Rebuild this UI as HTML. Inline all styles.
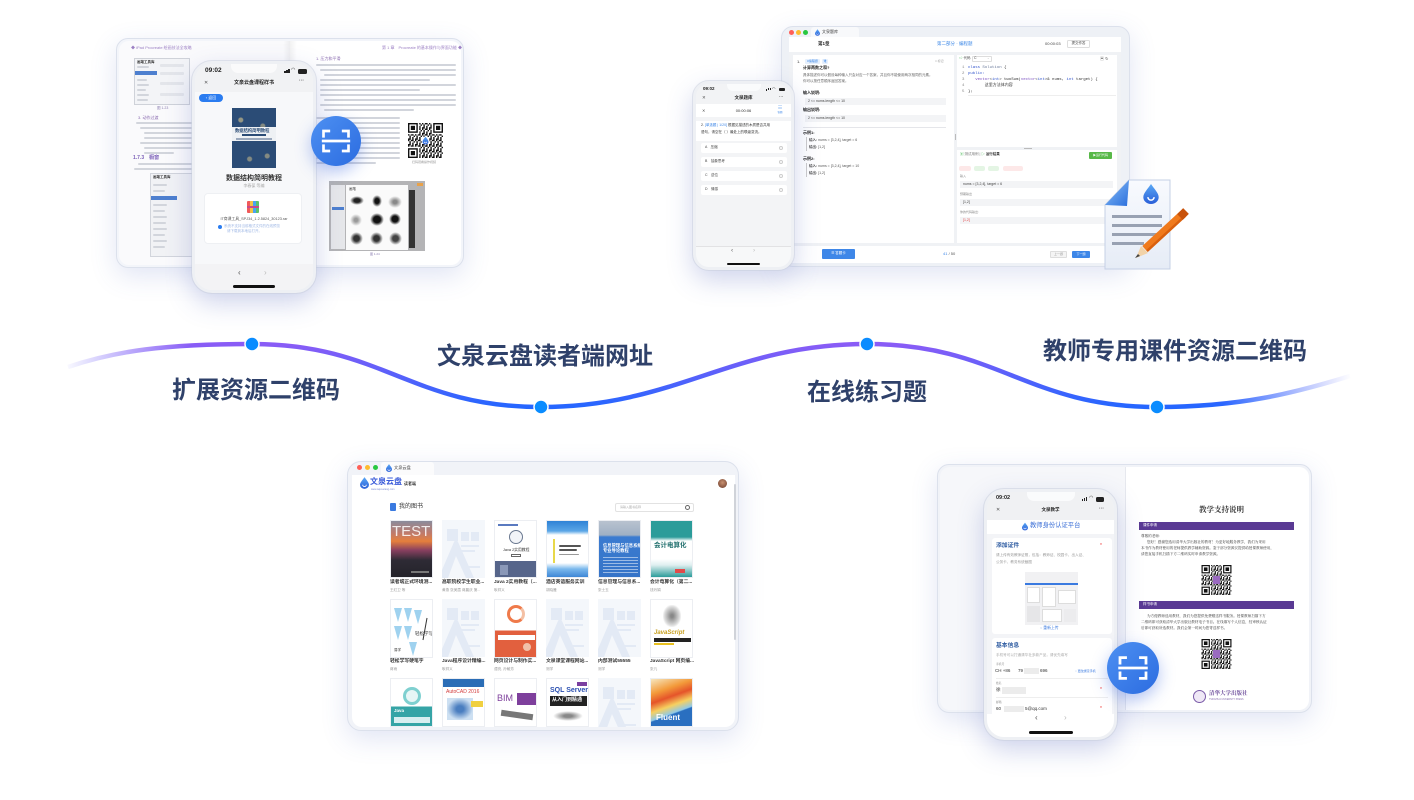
<!DOCTYPE html>
<html lang="zh"><head><meta charset="utf-8"><title>文泉云盘</title>
<style>
*{margin:0;padding:0;box-sizing:border-box}
html,body{width:1414px;height:800px;background:#fff;overflow:hidden}
body{position:relative;font-family:"Liberation Sans","Noto Sans CJK SC",sans-serif;color:#333}
.a{position:absolute}
.t{position:absolute;white-space:nowrap;line-height:1}
.l{position:absolute;height:2px;background:#d2d5dc;border-radius:1px}
.lb{position:absolute;font-size:24px;font-weight:bold;color:#2f416a;white-space:nowrap;line-height:1}
.b{font-weight:bold}
.frame{position:absolute;border:1px solid #dce1ec;box-shadow:0 8px 26px rgba(80,100,190,.17)}
.phone{position:absolute;border:3px solid #eef0f4;border-radius:20px;overflow:hidden;box-shadow:0 10px 26px rgba(70,90,180,.26);outline:1px solid rgba(200,206,220,.5)}
.scan{position:absolute;border-radius:50%;background:linear-gradient(135deg,#4d90f2,#2c6ce0);box-shadow:0 6px 16px rgba(40,90,220,.35)}
.bk{position:absolute;width:43px;overflow:hidden;border:1px solid #eceef2;background:#fff}
.bt{position:absolute;font-size:4.8px;font-weight:bold;color:#333;white-space:nowrap;line-height:1}
.ba{position:absolute;font-size:3.6px;color:#9a9a9a;white-space:nowrap;line-height:1}
.m{font-family:"Liberation Mono","Noto Sans CJK SC",monospace}
.s{font-family:"Liberation Serif","Noto Serif CJK SC",serif}
.c{text-align:center}
</style></head><body>

<svg width="0" height="0" style="position:absolute;left:0;top:0">
<defs>
<pattern id="qp" width="5" height="4" patternUnits="userSpaceOnUse"><path d="M0 0h1v1H0zM2 0h2v1H2zM1 1h1v2H1zM4 1h1v1H4zM3 2h1v1H3zM0 3h2v1H0zM3 3h1v1H3z" fill="#111"/></pattern>
<linearGradient id="dropg" x1="0" y1="0" x2="0" y2="1"><stop offset="0" stop-color="#5aa8f5"/><stop offset="1" stop-color="#2a5fd8"/></linearGradient>
<symbol id="qr" viewBox="0 0 25 25">
<rect width="25" height="25" fill="#fff"/><rect width="25" height="25" fill="url(#qp)"/>
<rect x="0" y="0" width="8" height="8" fill="#fff"/><rect x="0" y="0" width="7" height="7" fill="#111"/><rect x="1" y="1" width="5" height="5" fill="#fff"/><rect x="2" y="2" width="3" height="3" fill="#111"/>
<rect x="17" y="0" width="8" height="8" fill="#fff"/><rect x="18" y="0" width="7" height="7" fill="#111"/><rect x="19" y="1" width="5" height="5" fill="#fff"/><rect x="20" y="2" width="3" height="3" fill="#111"/>
<rect x="0" y="17" width="8" height="8" fill="#fff"/><rect x="0" y="18" width="7" height="7" fill="#111"/><rect x="1" y="19" width="5" height="5" fill="#fff"/><rect x="2" y="20" width="3" height="3" fill="#111"/>
</symbol>
<symbol id="drop" viewBox="0 0 10 13"><path d="M5 0C3 3 0 6 0 8.5A5 4.5 0 0 0 10 8.5C10 6 7 3 5 0Z" fill="url(#dropg)"/><path d="M3 8.5a2 2 0 0 0 4 0" stroke="#fff" stroke-width="1" fill="none"/></symbol>
<symbol id="scanic" viewBox="-30 -30 60 60"><path d="M-15 -4 V-12 H-7 M7 -12 H15 V-4 M15 4 V12 H7 M-7 12 H-15 V4" stroke="#fff" stroke-width="3.2" fill="none"/><path d="M-17 0 H17" stroke="#fff" stroke-width="3.2"/></symbol>
<symbol id="ph" viewBox="0 0 43 58">
<rect width="43" height="58" fill="#f4f7fb"/>
<rect x="5" y="9" width="11" height="12" fill="#e3eaf5"/><rect x="19" y="12" width="8" height="9" fill="#e3eaf5"/><rect x="29" y="12" width="8" height="9" fill="#e3eaf5"/>
<rect x="19" y="25" width="18" height="2" fill="#e3eaf5"/><rect x="19" y="30" width="14" height="2" fill="#e3eaf5"/><rect x="24" y="46" width="14" height="2" fill="#e3eaf5"/>
<path d="M0 58 L0 50 L12 22 Q14 18 16 22 L32 58 H24 L14 36 L6 58Z" fill="#e3eaf5"/>
</symbol>
</defs>
</svg>

<!-- ===== Wave ===== -->
<svg class="a" style="left:0;top:0" width="1414" height="800">
<defs>
<linearGradient id="wg" gradientUnits="userSpaceOnUse" x1="0" y1="344" x2="0" y2="407"><stop offset="0" stop-color="#8a5cf6"/><stop offset="1" stop-color="#2566ff"/></linearGradient>
<linearGradient id="fade" gradientUnits="userSpaceOnUse" x1="62" y1="0" x2="1352" y2="0">
<stop offset="0" stop-color="#fff" stop-opacity="0"/><stop offset="0.1" stop-color="#fff" stop-opacity="1"/><stop offset="0.9" stop-color="#fff" stop-opacity="1"/><stop offset="1" stop-color="#fff" stop-opacity="0"/></linearGradient>
<mask id="wm"><rect x="0" y="0" width="1414" height="800" fill="url(#fade)"/></mask>
</defs>
<path d="M68 367 C115 351,165 344,252 344 C382 344,411 407,541 407 C676 407,732 344,867 344 C997 344,1027 407,1157 407 C1240 407,1295 393,1350 376" fill="none" stroke="url(#wg)" stroke-width="4.5" mask="url(#wm)"/>
<g fill="#0a8cff" stroke="#fff" stroke-width="1.5">
<circle cx="252" cy="344" r="7"/><circle cx="541" cy="407" r="7"/><circle cx="867" cy="344" r="7"/><circle cx="1157" cy="407" r="7"/>
</g>
</svg>

<div class="lb" style="left:172px;top:379px">扩展资源二维码</div>
<div class="lb" style="left:437px;top:345px">文泉云盘读者端网址</div>
<div class="lb" style="left:807px;top:381px">在线练习题</div>
<div class="lb" style="left:1043px;top:340px">教师专用课件资源二维码</div>

<!-- ===== Panel 1 (top-left) ===== -->
<div class="frame" style="left:116px;top:38px;width:348px;height:230px;border-radius:12px;background:#f3f5fa"></div>
<div class="a" style="left:119px;top:41px;width:171px;height:224px;background:#fafafc;border-radius:10px 0 0 10px"></div>
<div class="a" style="left:290px;top:41px;width:171px;height:224px;background:#fff;border-radius:0 10px 10px 0"></div>
<div class="a" style="left:283px;top:41px;width:14px;height:224px;background:linear-gradient(90deg,rgba(0,0,0,0),rgba(0,0,0,.05),rgba(0,0,0,0))"></div>
<div class="t" style="left:131px;top:46px;font-size:4px;color:#9b7fc3">◆ iPad Procreate 绘画技法全攻略</div>
<div class="a" style="left:134px;top:58px;width:56px;height:47px;background:#f3f4f7;border:1px solid #cfd2d9"></div>
<div class="t b" style="left:137px;top:61px;font-size:3.5px">画笔工具库</div>
<div class="a" style="left:135px;top:71px;width:22px;height:4px;background:#4d7fcf"></div>
<div class="l" style="left:137px;top:66px;width:12px;height:1.5px"></div>
<div class="l" style="left:137px;top:79px;width:10px;height:1.5px"></div>
<div class="l" style="left:137px;top:84px;width:12px;height:1.5px"></div>
<div class="l" style="left:137px;top:89px;width:9px;height:1.5px"></div>
<div class="l" style="left:137px;top:94px;width:12px;height:1.5px"></div>
<div class="l" style="left:137px;top:99px;width:11px;height:1.5px"></div>
<div class="l" style="left:160px;top:64px;width:24px;height:3px;background:#e3e5ea"></div>
<div class="l" style="left:160px;top:72px;width:24px;height:3px;background:#e3e5ea"></div>
<div class="l" style="left:160px;top:82px;width:24px;height:3px;background:#e3e5ea"></div>
<div class="l" style="left:160px;top:93px;width:24px;height:3px;background:#e3e5ea"></div>
<div class="t" style="left:157px;top:107px;font-size:3.5px;color:#8a7cb0">图 1.23</div>
<div class="t" style="left:138px;top:116px;font-size:4px;color:#8a6bb0">3. 动作过渡</div>
<div class="l" style="left:136px;top:122px;width:56px"></div>
<div class="l" style="left:140px;top:127px;width:52px"></div>
<div class="l" style="left:144px;top:132px;width:48px"></div>
<div class="l" style="left:144px;top:137px;width:48px"></div>
<div class="l" style="left:140px;top:142px;width:52px"></div>
<div class="l" style="left:144px;top:147px;width:48px"></div>
<div class="l" style="left:144px;top:152px;width:30px"></div>
<div class="t b" style="left:133px;top:156px;font-size:5px;color:#7b5fb8">1.7.3　橱窗</div>
<div class="l" style="left:138px;top:163px;width:54px"></div>
<div class="l" style="left:134px;top:168px;width:58px"></div>
<div class="a" style="left:150px;top:173px;width:44px;height:84px;background:#f1f2f5;border:1px solid #d2d5dc"></div>
<div class="t b" style="left:153px;top:176px;font-size:3.5px">画笔工具库</div>
<div class="a" style="left:151px;top:196px;width:26px;height:4px;background:#4d7fcf"></div>
<div class="l" style="left:153px;top:184px;width:14px;height:1.5px"></div>
<div class="l" style="left:153px;top:190px;width:12px;height:1.5px"></div>
<div class="l" style="left:153px;top:204px;width:14px;height:1.5px"></div>
<div class="l" style="left:153px;top:210px;width:12px;height:1.5px"></div>
<div class="l" style="left:153px;top:216px;width:14px;height:1.5px"></div>
<div class="l" style="left:153px;top:222px;width:13px;height:1.5px"></div>
<div class="l" style="left:153px;top:228px;width:14px;height:1.5px"></div>
<div class="l" style="left:153px;top:234px;width:12px;height:1.5px"></div>
<div class="l" style="left:153px;top:240px;width:14px;height:1.5px"></div>
<div class="l" style="left:153px;top:246px;width:12px;height:1.5px"></div>
<!-- right page -->
<div class="t" style="left:382px;top:46px;font-size:4px;color:#9b7fc3">第 1 章　Procreate 的基本操作与界面功能 ◆</div>
<div class="t" style="left:316px;top:57px;font-size:4px;color:#8a6bb0">1. 压力和平滑</div>
<div class="l" style="left:316px;top:64px;width:140px"></div>
<div class="l" style="left:320px;top:69px;width:136px"></div>
<div class="l" style="left:324px;top:74px;width:132px"></div>
<div class="l" style="left:320px;top:79px;width:110px"></div>
<div class="l" style="left:320px;top:84px;width:136px"></div>
<div class="l" style="left:320px;top:89px;width:100px"></div>
<div class="l" style="left:320px;top:94px;width:136px"></div>
<div class="l" style="left:324px;top:99px;width:132px"></div>
<div class="l" style="left:320px;top:104px;width:136px"></div>
<div class="l" style="left:324px;top:109px;width:90px"></div>
<div class="l" style="left:316px;top:117px;width:84px"></div>
<div class="l" style="left:320px;top:122px;width:80px"></div>
<div class="l" style="left:320px;top:127px;width:80px"></div>
<div class="l" style="left:320px;top:132px;width:80px"></div>
<div class="l" style="left:320px;top:137px;width:80px"></div>
<div class="l" style="left:320px;top:142px;width:80px"></div>
<div class="l" style="left:316px;top:147px;width:84px"></div>
<div class="l" style="left:316px;top:152px;width:84px"></div>
<div class="l" style="left:316px;top:157px;width:84px"></div>
<div class="l" style="left:316px;top:162px;width:60px"></div>
<svg class="a" style="left:408px;top:123px" width="35" height="35"><use href="#qr"/><circle cx="17.5" cy="17.5" r="4" fill="#fff"/><use href="#drop" x="14.5" y="13.5" width="6" height="8"/></svg>
<div class="t" style="left:412px;top:161px;font-size:3px;color:#999">扫码观看操作视频</div>
<div class="a" style="left:329px;top:181px;width:96px;height:70px;background:#b4b4b6"></div>
<div class="a" style="left:331px;top:185px;width:14px;height:64px;background:#e6e7ea"></div>
<div class="a" style="left:332px;top:207px;width:12px;height:3px;background:#4d7fcf"></div>
<div class="a" style="left:346px;top:185px;width:62px;height:65px;background:#fafafa"></div>
<div class="t" style="left:349px;top:188px;font-size:3.5px">画笔</div>
<div class="a" style="left:350px;top:196px;width:14px;height:9px;border-radius:50%;background:radial-gradient(#222 30%,rgba(0,0,0,0) 70%)"></div>
<div class="a" style="left:372px;top:195px;width:10px;height:12px;border-radius:50%;background:radial-gradient(#111 30%,rgba(0,0,0,0) 70%)"></div>
<div class="a" style="left:388px;top:196px;width:14px;height:12px;border-radius:50%;background:radial-gradient(#888 20%,rgba(0,0,0,0) 70%)"></div>
<div class="a" style="left:350px;top:214px;width:12px;height:12px;border-radius:50%;background:radial-gradient(#999 20%,rgba(0,0,0,0) 70%)"></div>
<div class="a" style="left:370px;top:213px;width:14px;height:13px;border-radius:50%;background:radial-gradient(#111 35%,rgba(0,0,0,0) 70%)"></div>
<div class="a" style="left:389px;top:213px;width:12px;height:12px;border-radius:50%;background:radial-gradient(#111 35%,rgba(0,0,0,0) 70%)"></div>
<div class="a" style="left:350px;top:232px;width:13px;height:13px;border-radius:50%;background:radial-gradient(#333 30%,rgba(0,0,0,0) 70%)"></div>
<div class="a" style="left:370px;top:232px;width:13px;height:13px;border-radius:50%;background:radial-gradient(#333 30%,rgba(0,0,0,0) 70%)"></div>
<div class="a" style="left:389px;top:232px;width:13px;height:13px;border-radius:50%;background:radial-gradient(#444 30%,rgba(0,0,0,0) 70%)"></div>
<div class="a" style="left:409px;top:190px;width:6px;height:58px;background:#333"></div>
<div class="a" style="left:417px;top:183px;width:6px;height:3px;background:#e9a24a"></div>
<div class="t" style="left:370px;top:253px;font-size:3px;color:#8a7cb0">图 1.24</div>

<!-- phone 1 -->
<div class="phone" style="left:192px;top:61px;width:124px;height:232px;background:#f7f8fa">
  <div class="a" style="left:0;top:0;width:118px;height:28px;background:#f1f2f4"></div>
  <div class="a" style="left:36px;top:0;width:46px;height:9px;background:#fafafb;border-radius:0 0 7px 7px"></div>
  <div class="t b" style="left:10px;top:4px;font-size:6.5px;color:#222">09:02</div>
  <div class="a" style="left:89px;top:7px;width:1.5px;height:2px;background:#222"></div>
  <div class="a" style="left:91px;top:6px;width:1.5px;height:3px;background:#222"></div>
  <div class="a" style="left:93px;top:5px;width:1.5px;height:4px;background:#222"></div>
  <div class="t" style="left:96px;top:4px;font-size:5px;color:#222">◠</div>
  <div class="a" style="left:103px;top:5px;width:9px;height:5px;background:#222;border-radius:1.5px"></div>
  <div class="t" style="left:9px;top:17px;font-size:5px;color:#555">✕</div>
  <div class="t b c" style="left:0;top:17px;width:118px;font-size:5px;color:#222">文泉云盘课程样书</div>
  <div class="t b" style="left:104px;top:15px;font-size:5px;color:#555">···</div>
  <div class="a" style="left:4px;top:30px;width:24px;height:8px;background:#2a7cf0;border-radius:5px"></div>
  <div class="t c" style="left:4px;top:32px;width:24px;font-size:4px;color:#fff">‹ 返回</div>
  <div class="a" style="left:37px;top:44px;width:44px;height:60px;background:#2b4c76;background-image:radial-gradient(circle at 20% 20%,rgba(220,200,140,.6) 0 2px,transparent 3px),radial-gradient(circle at 70% 30%,rgba(220,200,140,.5) 0 2px,transparent 3px),radial-gradient(circle at 40% 85%,rgba(220,200,140,.5) 0 2px,transparent 3px),radial-gradient(circle at 80% 80%,rgba(220,200,140,.5) 0 2px,transparent 3px)"></div>
  <div class="a" style="left:37px;top:63px;width:44px;height:14px;background:rgba(255,255,255,.92)"></div>
  <div class="t b" style="left:40px;top:64.5px;font-size:4.3px;color:#2b4c76">数据结构简明教程</div>
  <div class="a" style="left:47px;top:70px;width:24px;height:2px;background:#2b4c76"></div>
  <div class="a" style="left:41px;top:74px;width:36px;height:1.5px;background:#9aa8bc"></div>
  <div class="t b c" style="left:0;top:111px;width:118px;font-size:7px;color:#333">数据结构简明教程</div>
  <div class="t c" style="left:0;top:120px;width:118px;font-size:4px;color:#aaa">李春葆 等编</div>
  <div class="a" style="left:9px;top:129px;width:98px;height:51px;background:#fff;border-radius:4px;border:1px solid #eef0f3"></div>
  <div class="a" style="left:52px;top:137px;width:12px;height:12px;border-radius:1px;background:linear-gradient(90deg,#f05a5a 0 25%,#f5c342 25% 50%,#4aa3f0 50% 75%,#5ac26a 75%)"></div>
  <div class="a" style="left:52px;top:142px;width:12px;height:2px;background:#c84a8a"></div>
  <div class="t c" style="left:0;top:154px;width:118px;font-size:3.8px;color:#555">IT商课工具_SPJ34_1.2.5824_30123.rar</div>
  <div class="a" style="left:23px;top:161px;width:4px;height:4px;border-radius:50%;background:#2a7cf0"></div>
  <div class="t" style="left:29px;top:161px;font-size:3.5px;color:#9db6e4">系统不支持当前格式文件的在线预览</div>
  <div class="t" style="left:32px;top:166px;font-size:3.5px;color:#9db6e4">请下载到本地后打开。</div>
  <div class="a" style="left:0;top:200px;width:118px;height:26px;background:#f3f3f5"></div>
  <div class="t" style="left:43px;top:205px;font-size:8px;color:#555">‹</div>
  <div class="t" style="left:69px;top:205px;font-size:8px;color:#bbb">›</div>
  <div class="a" style="left:38px;top:221px;width:42px;height:2.5px;background:#111;border-radius:2px"></div>
</div>
<div class="scan" style="left:311px;top:116px;width:50px;height:50px"><svg width="50" height="50"><use href="#scanic" width="50" height="50"/></svg></div>

<!-- ===== Panel 2 (top-right) ===== -->
<div class="frame" style="left:781px;top:26px;width:349px;height:241px;border-radius:12px;background:#eef1f6"></div>
<div class="a" style="left:789px;top:30px;width:5px;height:5px;border-radius:50%;background:#ff5f57"></div>
<div class="a" style="left:796px;top:30px;width:5px;height:5px;border-radius:50%;background:#febc2e"></div>
<div class="a" style="left:803px;top:30px;width:5px;height:5px;border-radius:50%;background:#28c840"></div>
<div class="a" style="left:811px;top:27px;width:48px;height:10px;background:#f8f9fb;border-radius:3px 3px 0 0"></div>
<svg class="a" style="left:815px;top:28.5px" width="5" height="7"><use href="#drop" width="5" height="7"/></svg>
<div class="t" style="left:822px;top:30px;font-size:4px;color:#444">文泉题库</div>
<div class="a" style="left:789px;top:37px;width:332px;height:226px;background:#f0f2f5"></div>
<div class="a" style="left:789px;top:37px;width:332px;height:15px;background:#fff"></div>
<div class="t b" style="left:818px;top:42px;font-size:4.5px;color:#222">第1章</div>
<div class="t" style="left:937px;top:42px;font-size:4.5px;color:#3a86e6">第二部分 · 编程题</div>
<div class="t" style="left:1045px;top:42px;font-size:4px;color:#444">00:00:03</div>
<div class="a" style="left:1067px;top:40px;width:23px;height:8px;border:1px solid #ddd;border-radius:1.5px;background:#fff"></div>
<div class="t c" style="left:1067px;top:42.3px;width:23px;font-size:3.5px;color:#444">提交作答</div>
<div class="a" style="left:793px;top:55px;width:161px;height:188px;background:#fff"></div>
<div class="a" style="left:957px;top:55px;width:160px;height:92px;background:#fff"></div>
<div class="a" style="left:957px;top:150px;width:160px;height:93px;background:#fff"></div>
<div class="a" style="left:1024px;top:148px;width:8px;height:.8px;background:#bbb"></div>
<div class="a" style="left:955px;top:134px;width:.8px;height:6px;background:#bbb"></div>
<div class="a" style="left:789px;top:246px;width:332px;height:17px;background:#fff"></div>
<!-- left question -->
<div class="t" style="left:797px;top:60px;font-size:4px">1.</div>
<div class="a" style="left:805px;top:59px;width:15px;height:5px;background:#e6f0fd;border-radius:1px"></div>
<div class="t c" style="left:805px;top:60px;width:15px;font-size:3px;color:#3a86e6">#编程题</div>
<div class="a" style="left:822px;top:59px;width:6px;height:5px;background:#e6f0fd;border-radius:1px"></div>
<div class="t" style="left:823.5px;top:60px;font-size:3px;color:#3a86e6">难</div>
<div class="t" style="left:935px;top:60px;font-size:3px;color:#999">□ 标记</div>
<div class="t b" style="left:803px;top:66px;font-size:4px;color:#222">计算两数之和?</div>
<div class="t" style="left:803px;top:74px;font-size:3.5px;color:#666">具体描述你可以假设每种输入只会对应一个答案，并且你不能使用两次相同的元素。</div>
<div class="t" style="left:803px;top:80px;font-size:3.5px;color:#666">你可以按任意顺序返回答案。</div>
<div class="t b" style="left:803px;top:91px;font-size:4px;color:#222">输入说明:</div>
<div class="a" style="left:805px;top:98px;width:141px;height:7px;background:#f3f4f6"></div>
<div class="t" style="left:808px;top:99.5px;font-size:3.5px;color:#444">2 &lt;= nums.length &lt;= 10</div>
<div class="t b" style="left:803px;top:108px;font-size:4px;color:#222">输出说明:</div>
<div class="a" style="left:805px;top:115px;width:141px;height:7px;background:#f3f4f6"></div>
<div class="t" style="left:808px;top:116.5px;font-size:3.5px;color:#444">2 &lt;= nums.length &lt;= 10</div>
<div class="a" style="left:803px;top:127px;width:143px;height:1px;background:#e5e6ea"></div>
<div class="t b" style="left:803px;top:131px;font-size:4px;color:#222">示例1:</div>
<div class="a" style="left:806px;top:137px;width:1px;height:14px;background:#ccc"></div>
<div class="t" style="left:809px;top:139px;font-size:3.5px;color:#555"><b>输入:</b> nums = [3,2,4], target = 6</div>
<div class="t" style="left:809px;top:146px;font-size:3.5px;color:#555"><b>输出:</b> [1,2]</div>
<div class="t b" style="left:803px;top:157px;font-size:4px;color:#222">示例2:</div>
<div class="a" style="left:806px;top:163px;width:1px;height:14px;background:#ccc"></div>
<div class="t" style="left:809px;top:165px;font-size:3.5px;color:#555"><b>输入:</b> nums = [3,2,4], target = 10</div>
<div class="t" style="left:809px;top:172px;font-size:3.5px;color:#555"><b>输出:</b> [1,2]</div>
<!-- code -->
<div class="t" style="left:959px;top:57px;font-size:3.5px;color:#444"><span style="color:#3bb54a">⇨</span> 代码</div>
<div class="a" style="left:972px;top:56px;width:20px;height:6px;border:.6px solid #ddd;border-radius:1px"></div>
<div class="t" style="left:974px;top:57.3px;font-size:3.5px;color:#444">C</div>
<div class="t" style="left:987px;top:57px;font-size:3px;color:#aaa">⌄</div>
<div class="t" style="left:1100px;top:56.5px;font-size:4px;color:#555">▣ ↻</div>
<div class="t m" style="left:962px;top:65px;font-size:4px;color:#888;line-height:6px">1<br>2<br>3<br>4<br>5</div>
<div class="t m" style="left:968px;top:65px;font-size:4px;color:#333;line-height:6px"><span style="color:#3355cc">class</span> <span style="color:#6a7a9a">Solution</span> {<br><span style="color:#3355cc">public:</span><br>&nbsp;&nbsp;&nbsp;<span style="color:#7a4fc0">vector</span>&lt;<span style="color:#3355cc">int</span>&gt; twoSum(<span style="color:#7a4fc0">vector</span>&lt;<span style="color:#3355cc">int</span>&gt;&amp; nums, <span style="color:#3355cc">int</span> target) {<br>&nbsp;&nbsp;&nbsp;&nbsp;&nbsp;&nbsp;&nbsp;这里方法体内容<br>};</div>
<div class="a" style="left:968px;top:95px;width:148px;height:.8px;background:#eee"></div>
<!-- results -->
<div class="t" style="left:960px;top:153px;font-size:3.5px;color:#777"><span style="color:#3bb54a">▣</span> 测试用例 | <span style="color:#3bb54a">▷</span> <b style="color:#333">运行结果</b></div>
<div class="a" style="left:1089px;top:151.5px;width:23px;height:7px;background:#58b848;border-radius:1px"></div>
<div class="t c" style="left:1089px;top:153.5px;width:23px;font-size:3px;color:#fff">▶运行代码</div>
<div class="a" style="left:959px;top:166px;width:12px;height:4.5px;background:#fde8e8;border-radius:2px"></div>
<div class="a" style="left:974px;top:166px;width:11px;height:4.5px;background:#e4f5e4;border-radius:2px"></div>
<div class="a" style="left:988px;top:166px;width:11px;height:4.5px;background:#e4f5e4;border-radius:2px"></div>
<div class="a" style="left:1003px;top:166px;width:20px;height:4.5px;background:#fde8e8;border-radius:2px"></div>
<div class="t" style="left:960px;top:175px;font-size:3px;color:#888">输入</div>
<div class="a" style="left:960px;top:181px;width:153px;height:7px;background:#f3f4f6"></div>
<div class="t" style="left:963px;top:182.8px;font-size:3.5px;color:#444">nums = [3,2,4], target = 6</div>
<div class="t" style="left:960px;top:193px;font-size:3px;color:#888">预期输出</div>
<div class="a" style="left:960px;top:199px;width:153px;height:7px;background:#f3f4f6"></div>
<div class="t" style="left:963px;top:200.8px;font-size:3.5px;color:#444">[1,2]</div>
<div class="t" style="left:960px;top:211px;font-size:3px;color:#888">你的代码输出:</div>
<div class="a" style="left:960px;top:217px;width:153px;height:7px;background:#f3f4f6"></div>
<div class="t" style="left:963px;top:218.8px;font-size:3.5px;color:#e24a4a">[1,2]</div>
<!-- bottom bar -->
<div class="a" style="left:822px;top:249px;width:33px;height:10px;background:#3e87e8;border-radius:1px"></div>
<div class="t c" style="left:822px;top:252px;width:33px;font-size:3.5px;color:#fff">☰ 答题卡</div>
<div class="t" style="left:943px;top:252px;font-size:4px;color:#555"><span style="color:#3e87e8">41</span> / 50</div>
<div class="a" style="left:1050px;top:251px;width:17px;height:7px;background:#f4f4f4;border:.6px solid #ddd;border-radius:1px"></div>
<div class="t c" style="left:1050px;top:253px;width:17px;font-size:3px;color:#999">上一题</div>
<div class="a" style="left:1072px;top:251px;width:18px;height:7px;background:#3e87e8;border-radius:1px"></div>
<div class="t c" style="left:1072px;top:253px;width:18px;font-size:3px;color:#fff">下一题</div>

<!-- phone 2 -->
<div class="phone" style="left:693px;top:81px;width:101px;height:189px;border-radius:16px;background:#f3f4f6">
  <div class="a" style="left:0;top:0;width:95px;height:20px;background:#f2f3f5"></div>
  <div class="a" style="left:31px;top:0;width:34px;height:7px;background:#fafbfc;border-radius:0 0 6px 6px"></div>
  <div class="t b" style="left:7px;top:3px;font-size:4.5px;color:#222">09:02</div>
  <div class="a" style="left:70px;top:5px;width:1.2px;height:1.5px;background:#222"></div>
  <div class="a" style="left:71.8px;top:4.3px;width:1.2px;height:2.2px;background:#222"></div>
  <div class="a" style="left:73.6px;top:3.6px;width:1.2px;height:2.9px;background:#222"></div>
  <div class="t" style="left:76px;top:3px;font-size:4px;color:#222">◠</div>
  <div class="a" style="left:83px;top:3.5px;width:6px;height:3.5px;background:#222;border-radius:1px"></div>
  <div class="t" style="left:6px;top:12px;font-size:4.5px;color:#555">✕</div>
  <div class="t b c" style="left:0;top:12px;width:95px;font-size:4.5px;color:#222">文泉题库</div>
  <div class="t b" style="left:83px;top:11px;font-size:4.5px;color:#555">···</div>
  <div class="a" style="left:0;top:20px;width:95px;height:13px;background:#fff"></div>
  <div class="t" style="left:6px;top:24.5px;font-size:4px;color:#555">✕</div>
  <div class="t c" style="left:0;top:24.5px;width:95px;font-size:4px;color:#333">00:00:06</div>
  <div class="t" style="left:82px;top:21.5px;font-size:4.5px;color:#3e87e8">☷</div>
  <div class="t" style="left:81.5px;top:27.5px;font-size:2.5px;color:#3e87e8">答题</div>
  <div class="a" style="left:0;top:37px;width:95px;height:20px;background:#fff"></div>
  <div class="t" style="left:5px;top:40px;font-size:3.5px;color:#333">2. <span style="color:#3e87e8">[单选题 | 1/20]</span> 根据见描述的木质是否共用</div>
  <div class="t" style="left:5px;top:47px;font-size:3.5px;color:#333">语句，请空在（ ）最处上的联级变流。</div>
  <div class="a" style="left:5px;top:59px;width:86px;height:10px;background:#fff;border-radius:2px"></div>
  <div class="t" style="left:9px;top:62.3px;font-size:3.5px;color:#444">A　压缩</div>
  <div class="a" style="left:83px;top:62px;width:4px;height:4px;border:.5px solid #ccc;border-radius:50%"></div>
  <div class="a" style="left:5px;top:73px;width:86px;height:10px;background:#fff;border-radius:2px"></div>
  <div class="t" style="left:9px;top:76.3px;font-size:3.5px;color:#444">B　抽象思考</div>
  <div class="a" style="left:83px;top:76px;width:4px;height:4px;border:.5px solid #ccc;border-radius:50%"></div>
  <div class="a" style="left:5px;top:87px;width:86px;height:10px;background:#fff;border-radius:2px"></div>
  <div class="t" style="left:9px;top:90.3px;font-size:3.5px;color:#444">C　逆位</div>
  <div class="a" style="left:83px;top:90px;width:4px;height:4px;border:.5px solid #ccc;border-radius:50%"></div>
  <div class="a" style="left:5px;top:101px;width:86px;height:10px;background:#fff;border-radius:2px"></div>
  <div class="t" style="left:9px;top:104.3px;font-size:3.5px;color:#444">D　情感</div>
  <div class="a" style="left:83px;top:104px;width:4px;height:4px;border:.5px solid #ccc;border-radius:50%"></div>
  <div class="a" style="left:0;top:162px;width:95px;height:21px;background:#f7f8f9;border-top:.6px solid #e2e2e4"></div>
  <div class="t" style="left:35px;top:164px;font-size:6.5px;color:#666">‹</div>
  <div class="t" style="left:57px;top:164px;font-size:6.5px;color:#bbb">›</div>
  <div class="a" style="left:31px;top:179px;width:33px;height:2px;background:#111;border-radius:1px"></div>
</div>

<!-- document icon -->
<svg class="a" style="left:1095px;top:172px" width="100" height="102" viewBox="1095 172 100 102">
<defs>
<linearGradient id="pg" x1="0" y1="0" x2="0" y2="1"><stop offset="0" stop-color="#f8fafe"/><stop offset="1" stop-color="#e6ecf6"/></linearGradient>
<linearGradient id="fg" x1="0" y1="0" x2="1" y2="1"><stop offset="0" stop-color="#8cc0f8"/><stop offset="1" stop-color="#2a6fdc"/></linearGradient>
</defs>
<polygon points="1105,205 1129,180 1170,180 1170,269 1105,269" fill="url(#pg)" stroke="#c5d0e5" stroke-width="1"/>
<polygon points="1105,205 1129,180 1127,206" fill="url(#fg)"/>
<use href="#drop" x="1143" y="184" width="16" height="20"/>
<rect x="1112" y="215" width="50" height="3" fill="#98a1b2"/>
<rect x="1112" y="224" width="50" height="3" fill="#98a1b2"/>
<rect x="1112" y="233" width="50" height="3" fill="#98a1b2"/>
<rect x="1112" y="242" width="32" height="3" fill="#98a1b2"/>
<line x1="1145" y1="249" x2="1183" y2="214" stroke="#f07a1c" stroke-width="8"/>
<line x1="1147" y1="251" x2="1185" y2="216" stroke="#d9600e" stroke-width="2.5"/>
<line x1="1180" y1="217" x2="1186" y2="211" stroke="#c8520a" stroke-width="8"/>
<polygon points="1141,246 1148,253 1136,258" fill="#f2d3a8"/>
<polygon points="1138,254 1140,256 1135,258" fill="#444"/>
</svg>

<!-- ===== Panel 3 (bottom-left) ===== -->
<div class="frame" style="left:347px;top:461px;width:392px;height:270px;border-radius:14px;background:#f1f3f8"></div>
<div class="a" style="left:357px;top:465px;width:5px;height:5px;border-radius:50%;background:#ff5f57"></div>
<div class="a" style="left:365px;top:465px;width:5px;height:5px;border-radius:50%;background:#febc2e"></div>
<div class="a" style="left:373px;top:465px;width:5px;height:5px;border-radius:50%;background:#28c840"></div>
<div class="a" style="left:381px;top:462px;width:53px;height:13px;background:#fbfbfc;border-radius:3px 3px 0 0"></div>
<svg class="a" style="left:386px;top:464px" width="6" height="8"><use href="#drop" width="6" height="8"/></svg>
<div class="t" style="left:394px;top:466px;font-size:4.2px;color:#444">文泉云盘</div>
<div class="a" style="left:352px;top:475px;width:383px;height:252px;background:#fff;border-radius:0 0 10px 10px"></div>
<svg class="a" style="left:360px;top:477px" width="9" height="12"><use href="#drop" width="9" height="12"/></svg>
<div class="t b" style="left:370px;top:478px;font-size:8px;color:#3a5bd9">文泉云盘</div>
<div class="t b" style="left:404px;top:482px;font-size:4px;color:#333">读者端</div>
<div class="t" style="left:371px;top:488.5px;font-size:2.5px;color:#7a8ad0">www.wqxuetang.com</div>
<div class="a" style="left:718px;top:479px;width:9px;height:9px;border-radius:50%;background:radial-gradient(circle at 50% 40%,#c89070,#6a3a2a)"></div>
<div class="a" style="left:734px;top:484px;width:2px;height:156px;background:#d0d3d9;border-radius:1px"></div>
<div class="a" style="left:390px;top:503px;width:6px;height:8px;background:#3a7ae0;border-radius:1px"></div>
<div class="t" style="left:399px;top:504px;font-size:6px;color:#333">我的图书</div>
<div class="a" style="left:615px;top:503px;width:79px;height:9px;border:1px solid #e2e2e2;border-radius:2px"></div>
<div class="t" style="left:620px;top:506px;font-size:3px;color:#aaa">请输入图书名称</div>
<div class="a" style="left:685px;top:505px;width:5px;height:5px;border:1px solid #666;border-radius:50%"></div>

<!-- Row 1 -->
<div class="bk" style="left:390px;top:520px;height:58px;background:linear-gradient(180deg,#8a8c9c 0%,#c07a6a 22%,#e57f3c 36%,#8a4060 52%,#2e2b35 70%,#24232a 100%)"><div class="t" style="left:1px;top:3px;font-size:15px;color:rgba(255,255,255,.85)">TEST</div><div class="a" style="left:20px;top:50px;width:18px;height:2px;background:#777"></div></div>
<svg class="a" style="left:442px;top:520px" width="43" height="58"><use href="#ph" width="43" height="58"/></svg>
<div class="bk" style="left:494px;top:520px;height:58px">
  <div class="a" style="left:3px;top:3px;width:20px;height:2px;background:#5a7ac0"></div>
  <div class="a" style="left:14px;top:9px;width:14px;height:14px;border-radius:50%;border:1.5px solid #6a7890;background:#f2f4f8"></div>
  <div class="t" style="left:8px;top:28px;font-size:3.8px;color:#333">Java 2实用教程</div>
  <div class="a" style="left:16px;top:33px;width:10px;height:3px;border:.5px solid #666"></div>
  <div class="a" style="left:0;top:40px;width:43px;height:18px;background:#56658a"></div>
  <div class="a" style="left:5px;top:44px;width:8px;height:10px;background:#8a98b8"></div>
</div>
<div class="bk" style="left:546px;top:520px;height:58px;background:linear-gradient(180deg,#2f82d6 0,#5aa6e6 10px,#fff 14px,#fff 42px,#7ab8ec 48px,#2f7ad0 58px)">
  <div class="a" style="left:6px;top:18px;width:2px;height:24px;background:#e8d84a"></div>
  <div class="l" style="left:12px;top:24px;width:22px;height:1.5px;background:#555"></div>
  <div class="l" style="left:12px;top:28px;width:18px;height:1.5px;background:#555"></div>
  <div class="l" style="left:12px;top:33px;width:20px;height:1px;background:#999"></div>
</div>
<div class="bk" style="left:598px;top:520px;height:58px;background:linear-gradient(180deg,#b8c2cf 0,#a0b0c4 14px,#3b7bd0 16px,#3574c8 100%)">
  <div class="t b" style="left:4px;top:22px;font-size:4.3px;color:#fff;line-height:1.25">信息管理与信息系统<br>专业导论教程</div>
  <div class="a" style="left:4px;top:36px;width:35px;height:18px;background:repeating-linear-gradient(180deg,rgba(255,255,255,.5) 0 1px,transparent 1px 3px)"></div>
</div>
<div class="bk" style="left:650px;top:520px;height:58px;background:linear-gradient(180deg,#2b9c9a 0,#2b9c9a 16px,#fff 20px,#fff 38px,#dfeff0 44px,#2b9c9a 100%)">
  <div class="t b" style="left:3px;top:22px;font-size:6.5px;color:#1e6e6c">会计电算化</div>
  <div class="a" style="left:24px;top:48px;width:10px;height:4px;background:#e24a4a"></div>
</div>
<div class="bt" style="left:390px;top:581px">读者端正式环境测...</div><div class="ba" style="left:390px;top:589px">王红卫 等</div>
<div class="bt" style="left:442px;top:581px">高职院校学生职业...</div><div class="ba" style="left:442px;top:589px">黄燕 张美霞 蒋晨庆 第...</div>
<div class="bt" style="left:494px;top:581px">Java 2实用教程（...</div><div class="ba" style="left:494px;top:589px">耿祥义</div>
<div class="bt" style="left:546px;top:581px">酒店英语服务实训</div><div class="ba" style="left:546px;top:589px">胡晓雁</div>
<div class="bt" style="left:598px;top:581px">信息管理与信息系...</div><div class="ba" style="left:598px;top:589px">张士玉</div>
<div class="bt" style="left:650px;top:581px">会计电算化（第二...</div><div class="ba" style="left:650px;top:589px">钱玲娟</div>

<!-- Row 2 -->
<div class="bk" style="left:390px;top:599px;height:59px">
  <svg class="a" style="left:0;top:0" width="43" height="59"><g fill="#9fd2ef"><polygon points="3,8 11,8 7,22"/><polygon points="13,8 21,8 17,22"/><polygon points="23,10 31,10 27,24"/><polygon points="3,26 11,26 7,40"/><polygon points="13,26 21,26 17,40"/><polygon points="18,42 26,42 22,56"/></g><line x1="36" y1="18" x2="32" y2="40" stroke="#333" stroke-width="1"/></svg>
  <div class="t" style="left:24px;top:32px;font-size:4.5px;color:#333">轻松学写</div>
  <div class="t" style="left:3px;top:49px;font-size:3.5px;color:#333">易学</div>
</div>
<svg class="a" style="left:442px;top:599px" width="43" height="59"><use href="#ph" width="43" height="58"/></svg>
<div class="bk" style="left:494px;top:599px;height:59px;background:linear-gradient(180deg,#fff 0,#fff 30px,#e2603e 31px)">
  <div class="a" style="left:12px;top:5px;width:18px;height:18px;border-radius:50%;border:3px solid #ef7a4a;border-right-color:#f4c0a4"></div>
  <div class="a" style="left:3px;top:35px;width:37px;height:5px;background:#fff"></div>
  <div class="a" style="left:28px;top:43px;width:8px;height:8px;border-radius:50%;background:#f1c0a8"></div>
</div>
<svg class="a" style="left:546px;top:599px" width="43" height="59"><use href="#ph" width="43" height="58"/></svg>
<svg class="a" style="left:598px;top:599px" width="43" height="59"><use href="#ph" width="43" height="58"/></svg>
<div class="bk" style="left:650px;top:599px;height:59px">
  <div class="a" style="left:12px;top:5px;width:18px;height:22px;border-radius:40%;background:radial-gradient(#888 10%,#ddd 60%,#fff 75%)"></div>
  <div class="t b" style="left:3px;top:30px;font-size:6px;color:#c8a020;font-style:italic">JavaScript</div>
  <div class="a" style="left:3px;top:38px;width:37px;height:4px;background:#222"></div>
  <div class="a" style="left:3px;top:43px;width:20px;height:2px;background:#e8c020"></div>
</div>
<div class="bt" style="left:390px;top:660px">轻松学写硬笔字</div><div class="ba" style="left:390px;top:668px">蒋雨</div>
<div class="bt" style="left:442px;top:660px">Java程序设计精编...</div><div class="ba" style="left:442px;top:668px">耿祥义</div>
<div class="bt" style="left:494px;top:660px">网页设计与制作实...</div><div class="ba" style="left:494px;top:668px">谭亮, 孙毓芳</div>
<div class="bt" style="left:546px;top:660px">文泉课堂课程网站...</div><div class="ba" style="left:546px;top:668px">测学</div>
<div class="bt" style="left:598px;top:660px">内部测试55555</div><div class="ba" style="left:598px;top:668px">测学</div>
<div class="bt" style="left:650px;top:660px">JavaScript 网页编...</div><div class="ba" style="left:650px;top:668px">张凡</div>

<!-- Row 3 -->
<div class="bk" style="left:390px;top:678px;height:49px;background:linear-gradient(180deg,#fff 0,#fff 27px,#35a4a6 28px)">
  <div class="a" style="left:12px;top:8px;width:18px;height:18px;border-radius:50%;border:3px solid #7fd0d0;background:#e8f6f6"></div>
  <div class="t b" style="left:3px;top:30px;font-size:4.5px;color:#fff">Java</div>
  <div class="a" style="left:3px;top:38px;width:36px;height:6px;background:#d8eef0"></div>
</div>
<div class="bk" style="left:442px;top:678px;height:49px;background:linear-gradient(180deg,#2b6db6 0,#2b6db6 8px,#fff 8px)">
  <div class="t" style="left:3px;top:11px;font-size:5px;color:#d23a3a">AutoCAD 2016</div>
  <div class="a" style="left:4px;top:19px;width:26px;height:22px;background:radial-gradient(#4a7ec0 20%,#cde0f2 70%)"></div>
  <div class="a" style="left:28px;top:22px;width:12px;height:6px;background:#f0d040"></div>
</div>
<div class="bk" style="left:494px;top:678px;height:49px">
  <div class="t" style="left:2px;top:15px;font-size:9px;color:#7e3f9c">BIM</div>
  <div class="a" style="left:22px;top:14px;width:21px;height:12px;background:#7e3f9c"></div>
  <div class="a" style="left:6px;top:33px;width:32px;height:6px;background:#777;transform:rotate(8deg)"></div>
</div>
<div class="bk" style="left:546px;top:678px;height:49px">
  <div class="t b" style="left:3px;top:8px;font-size:7px;color:#2a4fb0">SQL Server</div>
  <div class="a" style="left:3px;top:17px;width:37px;height:10px;background:#222"></div>
  <div class="t b" style="left:5px;top:19px;font-size:5px;color:#fff">从入门到精通</div>
  <div class="a" style="left:30px;top:3px;width:10px;height:4px;background:#7a3fa0"></div>
  <div class="a" style="left:6px;top:32px;width:30px;height:10px;background:radial-gradient(#888 20%,#fff 70%)"></div>
</div>
<svg class="a" style="left:598px;top:678px" width="43" height="49"><use href="#ph" width="43" height="58"/></svg>
<div class="bk" style="left:650px;top:678px;height:49px;background:linear-gradient(160deg,#f6e7c0 0%,#f39a3a 25%,#e5542a 40%,#f6d060 55%,#8fc9e8 68%,#2a6fc0 70%,#2a6fc0 100%)">
  <div class="t b" style="left:5px;top:35px;font-size:8px;color:#fff">Fluent</div>
</div>

<!-- ===== Panel 4 (bottom-right) ===== -->
<div class="frame" style="left:937px;top:464px;width:375px;height:249px;border-radius:12px;background:#f1f3f8"></div>
<div class="a" style="left:940px;top:467px;width:185px;height:243px;background:#f6f7fa;border-radius:10px 0 0 10px"></div>
<div class="a" style="left:1125px;top:467px;width:184px;height:243px;background:#fff;border-radius:0 10px 10px 0"></div>
<div class="a" style="left:1125px;top:467px;width:1px;height:243px;background:#e6e8ee"></div>
<div class="t s b" style="left:1199px;top:506px;font-size:7.5px;color:#333">教学支持说明</div>
<div class="a" style="left:1139px;top:522px;width:155px;height:8px;background:#5a3a94"></div>
<div class="t" style="left:1143px;top:524px;font-size:3.5px;color:#fff">课件申请</div>
<div class="t s" style="left:1141px;top:535px;font-size:3.6px;color:#333">尊敬的老师：</div>
<div class="t s" style="left:1147px;top:541px;font-size:3.6px;color:#333">您好！感谢您选用清华大学出版社的教材！为更好地服务教学，我们为采用</div>
<div class="t s" style="left:1141px;top:547px;font-size:3.6px;color:#333">本书作为教材使用的老师提供教学辅助资源。鉴于部分资源仅提供给授课教师使用，</div>
<div class="t s" style="left:1141px;top:553px;font-size:3.6px;color:#333">请您直接手机扫描下方二维码实时申请教学资源。</div>
<svg class="a" style="left:1201px;top:565px" width="31" height="30"><use href="#qr" width="31" height="30"/><rect x="12" y="11" width="7" height="8" fill="#9a6ac0"/></svg>
<div class="a" style="left:1139px;top:601px;width:155px;height:8px;background:#5a3a94"></div>
<div class="t" style="left:1143px;top:603px;font-size:3.5px;color:#fff">样书申请</div>
<div class="t s" style="left:1147px;top:615px;font-size:3.6px;color:#333">为方便教师选用教材，我们为您提供免费赠送样书服务。授课教师扫描下方</div>
<div class="t s" style="left:1141px;top:621px;font-size:3.6px;color:#333">二维码即可获取清华大学出版社教材电子书目。在线填写个人信息，经审核认证</div>
<div class="t s" style="left:1141px;top:627px;font-size:3.6px;color:#333">后即可获取所选教材。我们会第一时间为您寄送样书。</div>
<svg class="a" style="left:1201px;top:639px" width="31" height="30"><use href="#qr" width="31" height="30"/><rect x="12" y="11" width="7" height="8" fill="#9a6ac0"/></svg>
<div class="a" style="left:1193px;top:690px;width:13px;height:13px;border-radius:50%;border:1.5px solid #7a5aa8;background:#efe8f6"></div>
<div class="t s b" style="left:1209px;top:692px;font-size:5.5px;color:#6b4a9a">清华大学出版社</div>
<div class="t" style="left:1209px;top:699px;font-size:2.3px;color:#8a70b0">TSINGHUA UNIVERSITY PRESS</div>

<!-- phone 4 -->
<div class="phone" style="left:984px;top:489px;width:133px;height:251px;background:#f3f4f7">
  <div class="a" style="left:0;top:0;width:127px;height:28px;background:#f0f1f3"></div>
  <div class="a" style="left:40px;top:0;width:48px;height:9px;background:#fafbfc;border-radius:0 0 7px 7px"></div>
  <div class="t b" style="left:9px;top:4px;font-size:5.5px;color:#222">09:02</div>
  <div class="a" style="left:95px;top:7px;width:1.4px;height:2px;background:#222"></div>
  <div class="a" style="left:97px;top:6px;width:1.4px;height:3px;background:#222"></div>
  <div class="a" style="left:99px;top:5px;width:1.4px;height:4px;background:#222"></div>
  <div class="t" style="left:102px;top:4px;font-size:5px;color:#222">◠</div>
  <div class="a" style="left:109px;top:5px;width:8px;height:4.5px;background:#222;border-radius:1.5px"></div>
  <div class="t" style="left:9px;top:16px;font-size:5px;color:#555">✕</div>
  <div class="t b c" style="left:0;top:16px;width:127px;font-size:4.5px;color:#222">文泉教学</div>
  <div class="t b" style="left:112px;top:15px;font-size:5px;color:#555">···</div>
  <div class="a" style="left:0;top:28px;width:127px;height:14px;background:#fff"></div>
  <svg class="a" style="left:35px;top:29.5px" width="6" height="9"><use href="#drop" width="6" height="9"/></svg>
  <div class="t" style="left:43px;top:31px;font-size:6.3px;color:#3a6ed6">教师身份认证平台</div>
  <div class="a" style="left:5px;top:46px;width:120px;height:96px;background:#fff;border-radius:3px"></div>
  <div class="t b" style="left:9px;top:52px;font-size:5.8px;color:#2c5aa0">添加证件</div>
  <div class="t" style="left:113px;top:52px;font-size:5px;color:#e33">*</div>
  <div class="t" style="left:9px;top:62px;font-size:3.6px;color:#999">请上传有效教师证照，包括：教师证、校园卡、出入证、</div>
  <div class="t" style="left:9px;top:69px;font-size:3.6px;color:#999">公务卡、教务系统截图</div>
  <div class="a" style="left:38px;top:80px;width:53px;height:53px;background:#f1f1f3"></div>
  <div class="a" style="left:38px;top:91px;width:53px;height:2px;background:#3a7ae0"></div>
  <div class="a" style="left:40px;top:95px;width:13px;height:16px;background:#fff;border:.5px solid #ddd"></div>
  <div class="a" style="left:55px;top:95px;width:14px;height:20px;background:#fff;border:.5px solid #ddd"></div>
  <div class="a" style="left:71px;top:98px;width:18px;height:14px;background:#fff;border:.5px solid #ddd"></div>
  <div class="a" style="left:40px;top:114px;width:13px;height:16px;background:#e6e6e8"></div>
  <div class="a" style="left:55px;top:117px;width:20px;height:13px;background:#fff;border:.5px solid #ddd"></div>
  <div class="a" style="left:77px;top:117px;width:12px;height:13px;background:#ececee"></div>
  <div class="t" style="left:53px;top:135px;font-size:3.8px;color:#3a7ae0">◌ 重新上传</div>
  <div class="a" style="left:5px;top:146px;width:120px;height:85px;background:#fff;border-radius:3px"></div>
  <div class="t b" style="left:9px;top:152px;font-size:5.8px;color:#2c5aa0">基本信息</div>
  <div class="t" style="left:9px;top:162px;font-size:3.6px;color:#aaa">手机号可以打通清华社多款产品，请优先填写</div>
  <div class="t" style="left:9px;top:171px;font-size:2.8px;color:#999">手机号</div>
  <div class="t" style="left:8px;top:177px;font-size:4.5px;color:#333">CH +86</div>
  <div class="t" style="left:31px;top:177px;font-size:4.5px;color:#333">79</div>
  <div class="a" style="left:37px;top:176px;width:15px;height:6px;background:#ececec"></div>
  <div class="t" style="left:53px;top:177px;font-size:4.5px;color:#333">696</div>
  <div class="t" style="left:88px;top:178px;font-size:3px;color:#3a7ae0">◌ 更改绑定手机</div>
  <div class="a" style="left:9px;top:186px;width:112px;height:.6px;background:#eee"></div>
  <div class="t" style="left:9px;top:190px;font-size:2.8px;color:#999">姓名</div>
  <div class="t" style="left:9px;top:196px;font-size:4.5px;color:#333">徐</div>
  <div class="a" style="left:15px;top:195px;width:24px;height:7px;background:#ececec"></div>
  <div class="t" style="left:113px;top:196px;font-size:5px;color:#e33">*</div>
  <div class="a" style="left:9px;top:205px;width:112px;height:.6px;background:#eee"></div>
  <div class="t" style="left:9px;top:209px;font-size:2.8px;color:#999">邮箱</div>
  <div class="t" style="left:9px;top:215px;font-size:4.5px;color:#333">60</div>
  <div class="a" style="left:17px;top:214px;width:20px;height:6px;background:#ececec"></div>
  <div class="t" style="left:38px;top:215px;font-size:4.5px;color:#333">5@qq.com</div>
  <div class="t" style="left:113px;top:215px;font-size:5px;color:#e33">*</div>
  <div class="a" style="left:0;top:222px;width:127px;height:23px;background:#fff"></div>
  <div class="t" style="left:48px;top:222px;font-size:8px;color:#555">‹</div>
  <div class="t" style="left:77px;top:222px;font-size:8px;color:#bbb">›</div>
  <div class="a" style="left:42px;top:239px;width:44px;height:2.5px;background:#111;border-radius:2px"></div>
</div>
<div class="scan" style="left:1107px;top:642px;width:52px;height:52px"><svg width="52" height="52"><use href="#scanic" width="52" height="52"/></svg></div>

</body></html>
